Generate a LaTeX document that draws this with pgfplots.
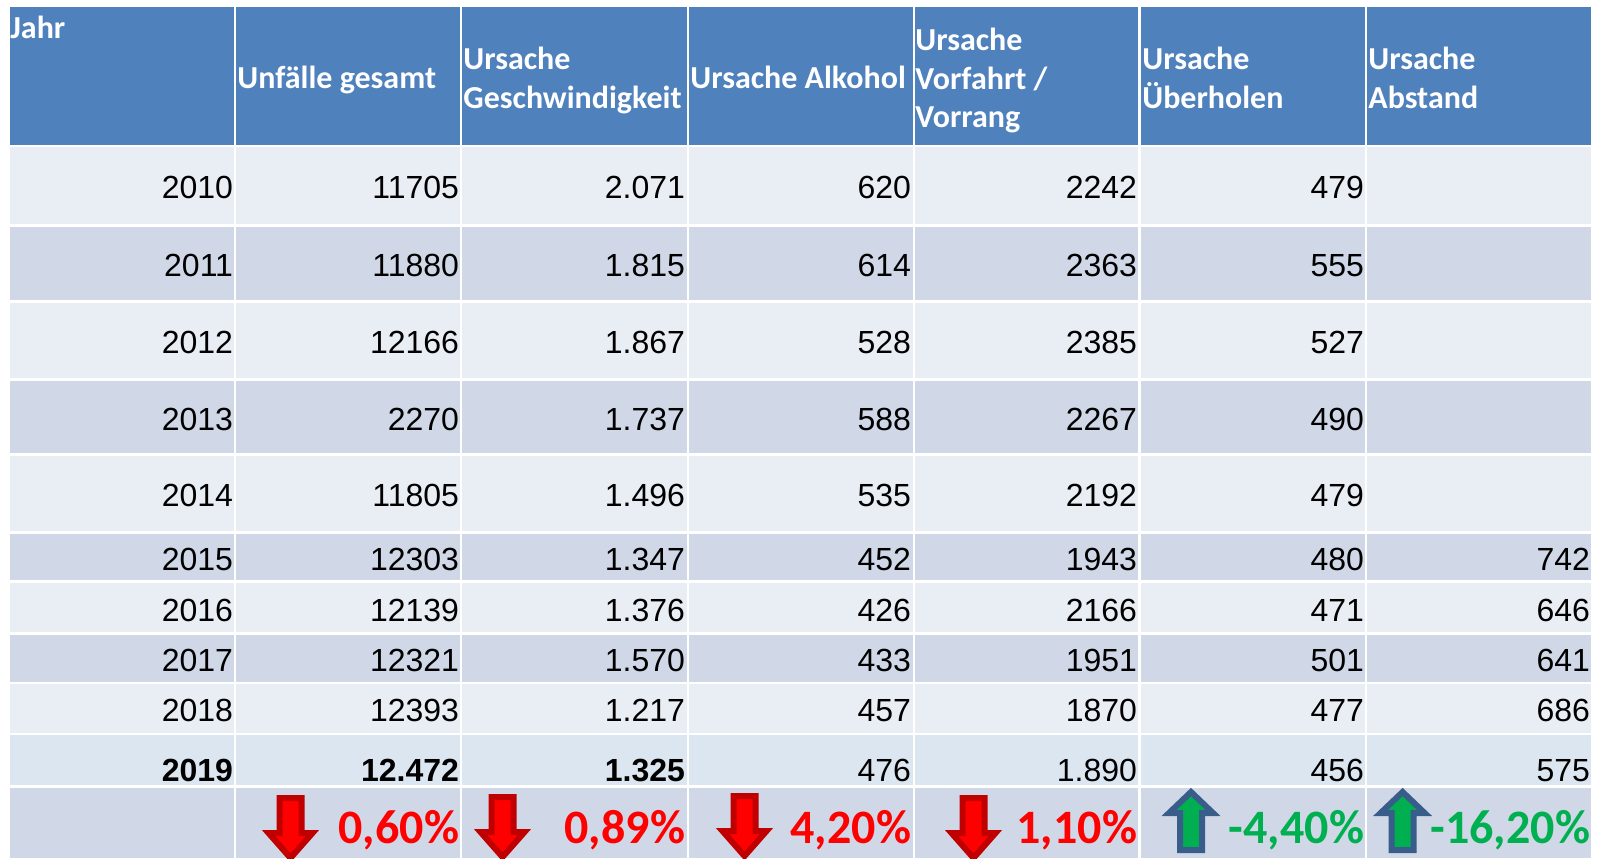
\documentclass[border=0pt]{standalone}
\usepackage{fontspec}
\usepackage{pgfplots}
\usepackage{pgfplotstable}
\pgfplotsset{compat=1.18}
\setmainfont{Liberation Sans}
\newfontfamily\carlito{Carlito}

\definecolor{kopf}{HTML}{4F81BD}
\definecolor{hell}{HTML}{E9EDF4}
\definecolor{dunkel}{HTML}{D0D8E8}
\definecolor{blass}{HTML}{DCE6F1}
\definecolor{rotrand}{HTML}{C00000}
\definecolor{gruen}{HTML}{00B050}
\definecolor{blaurand}{HTML}{385D8A}

% y = baseline in pixels of the reference
\pgfplotstableread{
y    jahr gesamt speed alkohol vorfahrt ueberholen
198  2010 11705  2.071 620     2242     479
276  2011 11880  1.815 614     2363     555
353  2012 12166  1.867 528     2385     527
430  2013 2270   1.737 588     2267     490
506  2014 11805  1.496 535     2192     479
570  2015 12303  1.347 452     1943     480
621  2016 12139  1.376 426     2166     471
671  2017 12321  1.570 433     1951     501
721  2018 12393  1.217 457     1870     477
}\zeilen
\pgfplotstableread{
y    abstand
570  742
621  646
671  641
721  686
781  575
}\abstand
\pgfplotstableread{
x    y   wert
233  781 2019
459  781 12.472
685  781 1.325
}\fett
\pgfplotstableread{
x    y   wert
911  781 476
1137 781 1.890
1364 781 456
}\mager
\pgfplotstableread{
x    y   wert
459  843 0,60\%
685  843 0,89\%
911  843 4,20\%
1137 843 1,10\%
}\runter
\pgfplotstableread{
x    y   wert
1364 843 -4,40\%
1590 843 -16,20\%
}\hoch
% arrow outlines relative to top middle
\pgfplotstableread{
dx  dy
-11 0
11  0
11  35
22  35
0   60
-22 35
-11 35
}\pfeilab
\pgfplotstableread{
dx  dy
-11 0
11  0
11  -37
22  -37
0   -58
-22 -37
-11 -37
}\pfeilauf

\newcommand\zelle[3]{\addplot[draw=none, fill=#3] coordinates {(10,#1) (1591,#1) (1591,#2) (10,#2)} --cycle;}
\newcommand\strich[1]{\addplot[white, line width=1.25pt] coordinates {(#1,7) (#1,858)};}
\newcommand\spalte[2]{\addplot[zahl] table[x expr=#1, y=y, meta=#2] {\zeilen};}
\newcommand\ab[2]{\addplot[draw=rotrand, fill=red, line width=3pt, miter limit=10] table[x expr=\thisrow{dx}+#1, y expr=\thisrow{dy}+#2] {\pfeilab} --cycle;}
\newcommand\auf[2]{\addplot[draw=blaurand, fill=gruen, line width=3pt, miter limit=10] table[x expr=\thisrow{dx}+#1, y expr=\thisrow{dy}+#2] {\pfeilauf} --cycle;}

\pgfplotsset{
  zahl/.style={draw=none, mark=none, point meta=explicit symbolic, nodes near coords,
    nodes near coords align={anchor=base east},
    every node near coord/.append style={inner sep=0pt, outer sep=0pt, font=\fontsize{16}{18}\selectfont}},
  prozent/.style={zahl, every node near coord/.append style={font=\carlito\bfseries\fontsize{24}{28}\selectfont, text=#1}},
}
\tikzset{kopfzeile/.style={anchor=base west, inner sep=0pt, text=white, font=\carlito\bfseries\fontsize{16}{18}\selectfont}}

\begin{document}
\begin{tikzpicture}
\begin{axis}[
    width=798.5pt, height=429pt, scale only axis,
    xmin=0, xmax=1597, ymin=0, ymax=858, y dir=reverse,
    hide axis,
]
\addplot[draw=none, fill=white] coordinates {(0,0) (1597,0) (1597,858) (0,858)} --cycle;
% rows
\zelle{7}{145}{kopf}
\zelle{147}{224}{hell}
\zelle{227}{300}{dunkel}
\zelle{303}{378}{hell}
\zelle{381}{453}{dunkel}
\zelle{456}{531}{hell}
\zelle{534}{580}{dunkel}
\zelle{583}{632}{hell}
\zelle{635}{682}{dunkel}
\zelle{684}{733}{hell}
\zelle{735}{785}{blass}
\zelle{788}{858}{dunkel}
\strich{235}\strich{461}\strich{688}\strich{914}\strich{1139.5}\strich{1366}
% values
\spalte{233}{jahr}
\spalte{459}{gesamt}
\spalte{685}{speed}
\spalte{911}{alkohol}
\spalte{1137}{vorfahrt}
\spalte{1364}{ueberholen}
\addplot[zahl] table[x expr=1590, y=y, meta=abstand] {\abstand};
\addplot[zahl, every node near coord/.append style={font=\bfseries\fontsize{16}{18}\selectfont}] table[x=x, y=y, meta=wert] {\fett};
\addplot[zahl] table[x=x, y=y, meta=wert] {\mager};
% last row
\ab{290.5}{798}
\ab{502.5}{797}
\ab{744.5}{796}
\ab{973.5}{798}
\auf{1191}{850}
\auf{1402.6}{850}
\addplot[prozent=red] table[x=x, y=y, meta=wert] {\runter};
\addplot[prozent=gruen] table[x=x, y=y, meta=wert] {\hoch};
% header
\node[kopfzeile] at (axis cs:10,38) {Jahr};
\node[kopfzeile] at (axis cs:237,88.5) {Unfälle gesamt};
\node[kopfzeile] at (axis cs:463,69) {Ursache};
\node[kopfzeile] at (axis cs:463,108) {Geschwindigkeit};
\node[kopfzeile] at (axis cs:690,88.5) {Ursache Alkohol};
\node[kopfzeile] at (axis cs:915,50) {Ursache};
\node[kopfzeile] at (axis cs:915,89) {Vorfahrt /};
\node[kopfzeile] at (axis cs:915,127) {Vorrang};
\node[kopfzeile] at (axis cs:1142,69) {Ursache};
\node[kopfzeile] at (axis cs:1142,108) {Überholen};
\node[kopfzeile] at (axis cs:1368,69) {Ursache};
\node[kopfzeile] at (axis cs:1368,108) {Abstand};
\end{axis}
\end{tikzpicture}
\end{document}
